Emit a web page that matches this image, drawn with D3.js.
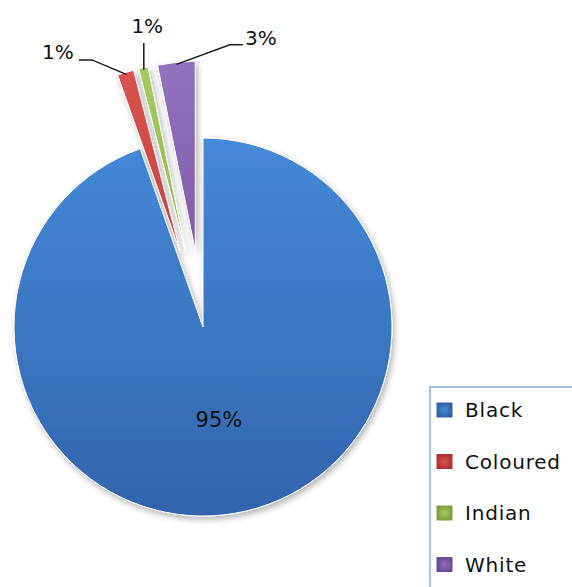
<!DOCTYPE html>
<html>
<head>
<meta charset="utf-8">
<script src="https://cdn.jsdelivr.net/npm/d3@7"></script>
<style>
  body { margin: 0; background: #fff; }
  text { font-family: "DejaVu Sans", Verdana, sans-serif; }
</style>
</head>
<body>
<div id="chart"></div>
<script>
// ============ DATA ============
const categories = ["Black", "Coloured", "Indian", "White"];
const shares = [94.6, 1.4, 0.8, 3.2];          // percent of population
const labels = ["95%", "1%", "1%", "3%"];

// colours (Excel 2007 style)
const topColors = ["#4589d8", "#d9534f", "#a5cc5e", "#9271c0"];
const bottomColors = ["#3264ac", "#b03431", "#7fa23e", "#6a4c94"];

const width = 572, height = 587;
const cx = 203, cy = 327, radius = 189;
const explode = 77;

const svg = d3.select("#chart")
    .append("svg")
    .attr("width", width)
    .attr("height", height);

const defs = svg.append("defs");

// gradients for slices
categories.forEach((c, i) => {
    const g = defs.append("linearGradient")
        .attr("id", "grad" + i)
        .attr("gradientUnits", "userSpaceOnUse")
        .attr("x1", 0).attr("y1", -radius)
        .attr("x2", 0).attr("y2", radius);
    g.append("stop").attr("offset", "0%").attr("stop-color", topColors[i]);
    g.append("stop").attr("offset", "100%").attr("stop-color", bottomColors[i]);

    const m = defs.append("radialGradient")
        .attr("id", "mark" + i);
    m.append("stop").attr("offset", "0%").attr("stop-color", topColors[i]);
    m.append("stop").attr("offset", "100%").attr("stop-color", bottomColors[i]);
});

// soft shadow
const filter = defs.append("filter")
    .attr("id", "shadow")
    .attr("x", "-20%").attr("y", "-20%")
    .attr("width", "140%").attr("height", "140%");
filter.append("feDropShadow")
    .attr("dx", 2).attr("dy", 3)
    .attr("stdDeviation", 3)
    .attr("flood-color", "#000")
    .attr("flood-opacity", 0.3);

// ============ PIE ============
const pie = d3.pie().sort(null).value(d => d)
    .startAngle(0).endAngle(2 * Math.PI);
const arcs = pie(shares);

const arc = d3.arc().innerRadius(0).outerRadius(radius);

const g = svg.append("g")
    .attr("transform", `translate(${cx},${cy})`);

// slice offset (only the small slices are pulled out)
const offset = (d, i) => {
    if (i === 0) return [0, 0];
    const a = (d.startAngle + d.endAngle) / 2;
    return [Math.sin(a) * explode, -Math.cos(a) * explode];
};

g.selectAll("path.slice")
    .data(arcs)
    .enter()
    .append("path")
    .attr("class", "slice")
    .attr("transform", (d, i) => `translate(${offset(d, i)})`)
    .attr("d", arc)
    .attr("fill", (d, i) => `url(#grad${i})`)
    .attr("stroke", "#fff")
    .attr("stroke-width", 1)
    .attr("filter", "url(#shadow)");

// big label inside
const inner = d3.arc().innerRadius(radius * 0.5).outerRadius(radius * 0.5);
g.append("text")
    .attr("transform", () => {
        const c = inner.centroid(arcs[0]);
        return `translate(${c[0]},${c[1] + 7})`;
    })
    .attr("text-anchor", "middle")
    .attr("font-size", 21)
    .attr("fill", "#111")
    .text(labels[0]);

// outside labels with leader lines
// per label: angle nudge (deg), label radius, side of the leader
const labelLayout = [null,
    {angle: -27.8, r: 311, side: "left"},
    {angle: -10.5, r: 306, side: "top"},
    {angle: 11.3, r: 295, side: "right"}];

arcs.forEach((d, i) => {
    if (i === 0) return;
    const lay = labelLayout[i];
    const mid = (d.startAngle + d.endAngle) / 2;
    const o = offset(d, i);
    const sx = o[0] + Math.sin(mid) * (radius - 2);
    const sy = o[1] - Math.cos(mid) * (radius - 2);
    const la = lay.angle * Math.PI / 180;
    const lx = Math.sin(la) * lay.r;
    const ly = -Math.cos(la) * lay.r;

    let pts;
    if (lay.side === "left") {
        pts = [[lx + 21, ly + 8], [lx + 34, ly + 8], [sx, sy]];
    } else if (lay.side === "right") {
        pts = [[lx - 18, ly + 7], [lx - 31, ly + 7], [sx, sy]];
    } else {
        pts = [[sx, ly + 17], [sx, sy]];
    }

    g.append("path")
        .attr("d", d3.line()(pts))
        .attr("fill", "none")
        .attr("stroke", "#1a1a1a")
        .attr("stroke-width", 1.5);

    g.append("text")
        .attr("x", lx)
        .attr("y", ly + 7)
        .attr("text-anchor", "middle")
        .attr("font-size", 20)
        .attr("fill", "#111")
        .text(labels[i]);
});

// ============ LEGEND ============
const legend = svg.append("g")
    .attr("transform", "translate(430,387)");

legend.append("rect")
    .attr("x", 0).attr("y", 0)
    .attr("width", 170).attr("height", 230)
    .attr("fill", "#fff")
    .attr("stroke", "#86aad8")
    .attr("stroke-width", 1.5);

categories.forEach((c, i) => {
    const y = 23 + i * 51.5;
    legend.append("rect")
        .attr("x", 7).attr("y", y - 7)
        .attr("width", 15).attr("height", 14)
        .attr("fill", `url(#mark${i})`)
        .attr("stroke", bottomColors[i])
        .attr("stroke-width", 1);
    legend.append("text")
        .attr("x", 35)
        .attr("y", y + 7)
        .attr("font-size", 20)
        .attr("letter-spacing", 0.8)
        .attr("fill", "#111")
        .text(c);
});
</script>
</body>
</html>
